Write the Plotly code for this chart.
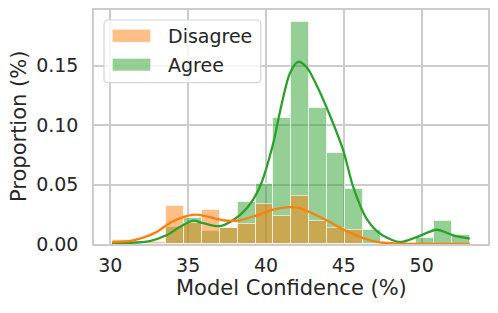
import plotly.graph_objects as go

# ---- data ----
bin_start = 30.15
bin_width = 1.1475
agree_prop = [0, 0, 0, 0.0142, 0.0215, 0.0109, 0.0134, 0.0353, 0.0508, 0.1065,
              0.187, 0.1149, 0.077, 0.046, 0.0115, 0, 0, 0.005, 0.019, 0.0072]
disagree_prop = [0.003, 0, 0.0017, 0.032, 0.018, 0.029, 0.0134, 0.0171, 0.034, 0.0235,
                 0.0401, 0.0193, 0.0137, 0.0115, 0, 0, 0, 0, 0, 0]

kde_disagree_x = [30.1, 31.24, 32.10, 32.96, 33.81, 34.67, 35.42, 36.17, 37.24, 38.32, 39.39,
                  40.46, 41.53, 42.17, 43.03, 44.10, 45.18, 46.24, 47.32, 48.6, 50.5, 53.1]
kde_disagree_y = [0.0016, 0.0025, 0.0053, 0.010, 0.0176, 0.0227, 0.0247, 0.0233, 0.020, 0.020, 0.0241,
                  0.0289, 0.031, 0.0303, 0.0255, 0.0185, 0.0109, 0.005, 0.0013, 0.0003, 0.0, 0.0]
kde_agree_x = [30.1, 31.24, 32.53, 33.60, 34.46, 35.31, 35.96, 37.03, 37.88, 38.75, 39.60, 40.46,
               40.89, 41.53, 42.06, 42.60, 43.25, 44.10, 44.96, 45.60, 46.46, 47.32, 48.60,
               49.68, 50.96, 52.03, 53.09]
kde_agree_y = [0.0008, 0.001, 0.0025, 0.0073, 0.0143, 0.0196, 0.0176, 0.0150, 0.020, 0.0298, 0.048, 0.0846,
               0.111, 0.1436, 0.1534, 0.149, 0.1337, 0.1084, 0.0789, 0.048, 0.0213, 0.0087, 0.0016,
               0.0058, 0.012, 0.0073, 0.0045]

x_ticks = [30, 35, 40, 45, 50]
y_ticks = [0.00, 0.05, 0.10, 0.15]
labels = ["Disagree", "Agree"]
x_title = "Model Confidence (%)"
y_title = "Proportion (%)"

centers = [bin_start + bin_width * (i + 0.5) for i in range(len(agree_prop))]

ORANGE = "#ff7f0e"
GREEN = "#2ca02c"
ORANGE_A = "rgba(255,127,14,0.5)"
GREEN_A = "rgba(44,160,44,0.5)"
EDGE = "rgba(255,255,255,0.6)"
TXT = "#262626"
GRID = "#cccccc"
FONT = "DejaVu Sans"

fig = go.Figure()
fig.add_trace(go.Bar(x=centers, y=[v if v else None for v in agree_prop], width=bin_width,
                     marker=dict(color=GREEN_A, line=dict(color=EDGE, width=1)),
                     name="Agree", showlegend=False))
fig.add_trace(go.Bar(x=centers, y=[v if v else None for v in disagree_prop], width=bin_width,
                     marker=dict(color=ORANGE_A, line=dict(color=EDGE, width=1)),
                     name="Disagree", showlegend=False))
fig.add_trace(go.Scatter(x=kde_agree_x, y=kde_agree_y, mode="lines",
                         line=dict(color=GREEN, width=2.3, shape="spline", smoothing=0.8),
                         showlegend=False, hoverinfo="skip"))
fig.add_trace(go.Scatter(x=kde_disagree_x, y=kde_disagree_y, mode="lines",
                         line=dict(color=ORANGE, width=2.3, shape="spline", smoothing=0.8),
                         showlegend=False, hoverinfo="skip"))

# page body has an 8px default margin: shrink the figure so it fills the 498x313 window
OFF = 8
W, H = 498 - OFF, 313 - OFF
pl, pr, pt, pb = 94, 488, 10, 244          # plot area in window pixels
ml, mr, mt, mb = pl - OFF, W + OFF - pr, pt - OFF, H + OFF - pb
pw, ph = pr - pl, pb - pt


def px(xp):
    return (xp - pl) / pw


def py(yp):
    return (pb - yp) / ph


# manual legend (rounded box, wide patches)
x0, x1, y0, y1 = px(104), px(260.7), py(82.7), py(20)
rx, ry = 4 / pw, 4 / ph
path = (f"M{x0+rx},{y0} L{x1-rx},{y0} Q{x1},{y0} {x1},{y0+ry} L{x1},{y1-ry} Q{x1},{y1} {x1-rx},{y1} "
        f"L{x0+rx},{y1} Q{x0},{y1} {x0},{y1-ry} L{x0},{y0+ry} Q{x0},{y0} {x0+rx},{y0} Z")
shapes = [dict(type="path", xref="paper", yref="paper", path=path,
               fillcolor="rgba(255,255,255,0.8)", line=dict(color="#d6d6d6", width=1.2))]
legend_rows = [(labels[0], ORANGE_A, 29.3, 42.3), (labels[1], GREEN_A, 58.3, 71.0)]
annotations = []
for name, col, ytop, ybot in legend_rows:
    shapes.append(dict(type="rect", xref="paper", yref="paper",
                       x0=px(112.3), x1=px(150.7), y0=py(ybot), y1=py(ytop),
                       fillcolor=col, line=dict(color=EDGE, width=1)))
    annotations.append(dict(xref="paper", yref="paper", x=px(165.5), y=py((ytop + ybot) / 2),
                            xanchor="left", yanchor="middle", showarrow=False, text=name,
                            font=dict(family=FONT, size=19, color=TXT)))

# axis titles as annotations
annotations.append(dict(xref="paper", yref="paper", x=px(291), y=py(288), xanchor="center",
                        yanchor="middle", showarrow=False, text=x_title,
                        font=dict(family=FONT, size=21, color=TXT)))
annotations.append(dict(xref="paper", yref="paper", x=px(19), y=py(127), xanchor="center",
                        yanchor="middle", showarrow=False, text=y_title, textangle=-90,
                        font=dict(family=FONT, size=21, color=TXT)))

fig.update_layout(
    width=W, height=H,
    margin=dict(l=ml, r=mr, t=mt, b=mb, autoexpand=False),
    paper_bgcolor="white", plot_bgcolor="white",
    barmode="overlay", bargap=0,
    font=dict(family=FONT, color=TXT),
    shapes=shapes, annotations=annotations,
    showlegend=False,
)
fig.update_xaxes(range=[28.95, 54.26], tickvals=x_ticks, ticktext=[str(t) for t in x_ticks],
                 showgrid=True, gridcolor=GRID, gridwidth=1.5,
                 showline=True, mirror=True, linecolor=GRID, linewidth=1.5,
                 zeroline=False, ticks="", ticklabelstandoff=3, automargin=False,
                 tickfont=dict(family=FONT, size=19, color=TXT))
fig.update_yaxes(range=[0, 0.197], tickvals=y_ticks, ticktext=[f"{t:.2f}" for t in y_ticks],
                 showgrid=True, gridcolor=GRID, gridwidth=1.5,
                 showline=True, mirror=True, linecolor=GRID, linewidth=1.5,
                 zeroline=False, ticks="", ticklabelstandoff=10, automargin=False,
                 tickfont=dict(family=FONT, size=19, color=TXT))

fig.write_html("out.html")
